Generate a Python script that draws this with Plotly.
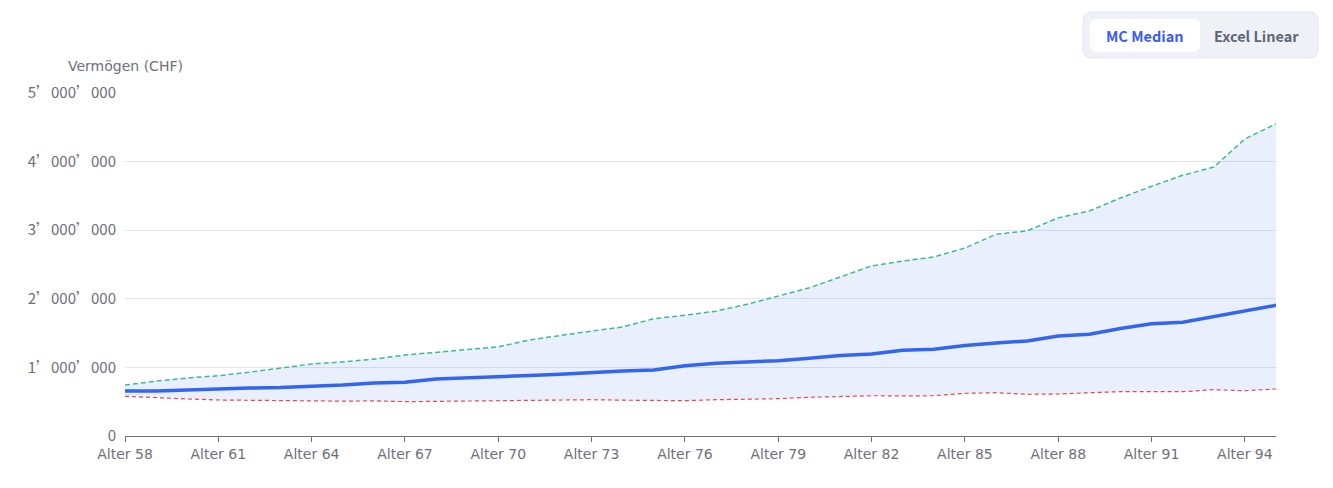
import plotly.graph_objects as go

ages = list(range(58, 96))
p90 = [0.743, 0.80, 0.845, 0.879, 0.93, 0.99, 1.05, 1.08, 1.12, 1.18, 1.22, 1.27, 1.30,
       1.40, 1.47, 1.53, 1.59, 1.71, 1.76, 1.82, 1.92, 2.04, 2.16, 2.32, 2.48, 2.55, 2.61,
       2.74, 2.94, 2.99, 3.18, 3.28, 3.47, 3.64, 3.80, 3.92, 4.33, 4.55]
median = [0.656, 0.656, 0.671, 0.690, 0.700, 0.707, 0.722, 0.743, 0.773, 0.783, 0.831, 0.845,
          0.856, 0.882, 0.899, 0.926, 0.948, 0.962, 1.025, 1.060, 1.079, 1.098, 1.133, 1.173,
          1.195, 1.249, 1.264, 1.319, 1.356, 1.385, 1.458, 1.482, 1.567, 1.637, 1.657, 1.742,
          1.822, 1.905]
p10 = [0.579, 0.555, 0.540, 0.525, 0.520, 0.515, 0.510, 0.508, 0.512, 0.500, 0.505, 0.510,
       0.515, 0.517, 0.522, 0.529, 0.522, 0.515, 0.515, 0.529, 0.535, 0.544, 0.564, 0.575,
       0.587, 0.585, 0.587, 0.622, 0.631, 0.608, 0.612, 0.631, 0.646, 0.646, 0.646, 0.675,
       0.660, 0.685]
p90 = [v * 1e6 for v in p90]
median = [v * 1e6 for v in median]
p10 = [v * 1e6 for v in p10]

x_tick_ages = list(range(58, 95, 3))
x_tick_text = [f"Alter {a}" for a in x_tick_ages]
y_tick_vals = [0, 1e6, 2e6, 3e6, 4e6, 5e6]
y_tick_text = ["0", "1’000’000", "2’000’000", "3’000’000", "4’000’000", "5’000’000"]

CJK = "Noto Sans CJK SC"
LAT = "DejaVu Sans"
W, H = 1333, 488
L, R, T, B = 125, 57, 93, 52
PW, PH = W - L - R, H - T - B


def px(x):
    return (x - L) / PW


def py(y):
    return (H - B - y) / PH


def rrect(x0, y0, x1, y1, r):
    return (f"M {px(x0 + r)},{py(y0)} L {px(x1 - r)},{py(y0)} "
            f"Q {px(x1)},{py(y0)} {px(x1)},{py(y0 + r)} L {px(x1)},{py(y1 - r)} "
            f"Q {px(x1)},{py(y1)} {px(x1 - r)},{py(y1)} L {px(x0 + r)},{py(y1)} "
            f"Q {px(x0)},{py(y1)} {px(x0)},{py(y1 - r)} L {px(x0)},{py(y0 + r)} "
            f"Q {px(x0)},{py(y0)} {px(x0 + r)},{py(y0)} Z")


fig = go.Figure()
fig.add_trace(go.Scatter(x=ages, y=p10, mode="lines",
                         line=dict(color="#e8474a", width=1.2, dash="4px,3px"),
                         hoverinfo="skip", showlegend=False))
fig.add_trace(go.Scatter(x=ages, y=p90, mode="lines", fill="tonexty",
                         fillcolor="rgba(60,110,245,0.11)",
                         line=dict(color="#3dbb8c", width=1.5, dash="5px,3px"),
                         showlegend=False))
fig.add_trace(go.Scatter(x=ages, y=median, mode="lines",
                         line=dict(color="#3366ee", width=3.5),
                         showlegend=False))

fig.update_layout(
    width=W, height=H,
    margin=dict(l=L, r=R, t=T, b=B),
    paper_bgcolor="white", plot_bgcolor="white",
    font=dict(family=LAT, size=14, color="#6e7079"),
    xaxis=dict(range=[58, 95], tickmode="array", tickvals=x_tick_ages, ticktext=x_tick_text,
               showgrid=False, zeroline=False, showline=True, linecolor="#6e7079", linewidth=1,
               ticks="outside", ticklen=5, tickcolor="#6e7079",
               tickfont=dict(family=LAT, size=14, color="#6e7079")),
    yaxis=dict(range=[0, 5e6], tickmode="array", tickvals=y_tick_vals, ticktext=y_tick_text,
               showgrid=True, gridcolor="#e0e6f1", gridwidth=1, zeroline=False,
               showline=False, ticks="", ticklabelstandoff=8,
               tickfont=dict(family=CJK, size=15, color="#6e7079")),
    shapes=[
        dict(type="path", xref="paper", yref="paper", path=rrect(1083, 12, 1318, 58, 9),
             fillcolor="#eef1f6", line=dict(color="#e2e6ee", width=1), layer="above"),
        dict(type="path", xref="paper", yref="paper", path=rrect(1090, 19, 1200, 52, 7),
             fillcolor="#ffffff", line=dict(width=0), layer="above"),
    ],
    annotations=[
        dict(text="Vermögen (CHF)", xref="paper", yref="paper", x=px(125), y=py(66),
             xanchor="center", yanchor="middle", showarrow=False,
             font=dict(family=LAT, size=14, color="#6e7079")),
        dict(text="<b>MC Median</b>", xref="paper", yref="paper", x=px(1145), y=py(36),
             xanchor="center", yanchor="middle", showarrow=False,
             font=dict(family=CJK, size=14.5, color="#3b5bf5")),
        dict(text="<b>Excel Linear</b>", xref="paper", yref="paper", x=px(1256), y=py(36),
             xanchor="center", yanchor="middle", showarrow=False,
             font=dict(family=CJK, size=14.5, color="#5f6778")),
    ],
)

fig.write_html("out.html")
